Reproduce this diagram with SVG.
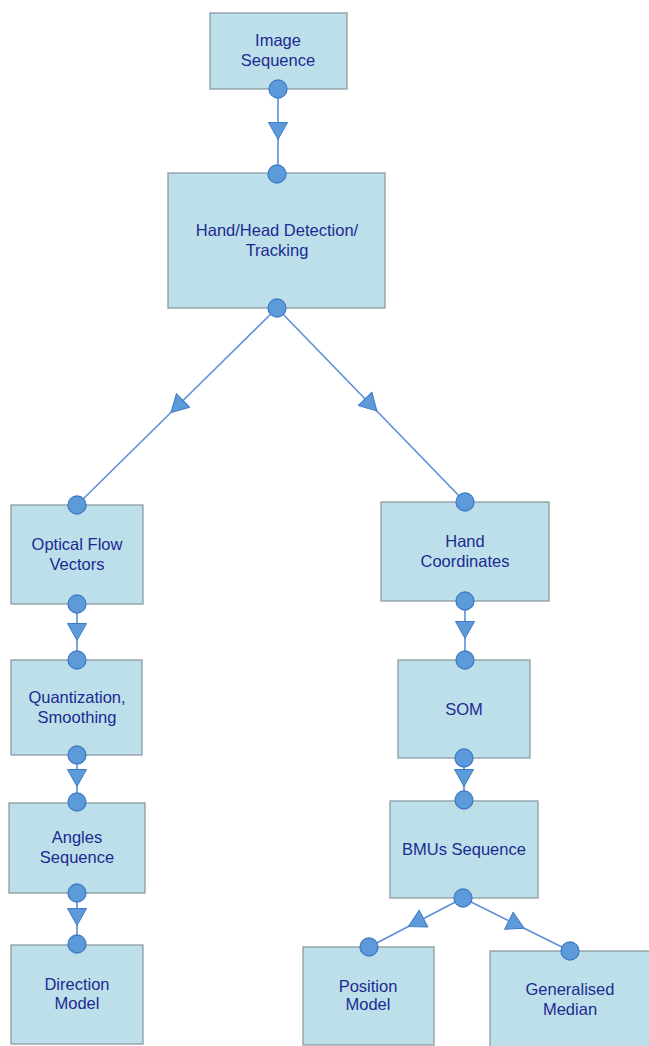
<svg xmlns="http://www.w3.org/2000/svg" width="649" height="1046" viewBox="0 0 649 1046">
<style>
.box{fill:#bddfe9;stroke:#8c9ba3;stroke-width:1.3}
.lbl{font-family:"Liberation Sans",Arial,sans-serif;font-size:16.5px;fill:#1c2a92;text-anchor:middle}
.conn{fill:none;stroke:#5b8fd8;stroke-width:1.6;marker-mid:url(#tri)}
.dot{fill:#5d9ad9;stroke:#3f7bc6;stroke-width:1.3}
</style>
<defs>
<marker id="tri" markerUnits="userSpaceOnUse" markerWidth="20" markerHeight="20" viewBox="-9 -10 19 20" refX="0" refY="0" orient="auto">
<path d="M-8.5,-9.5 L8.5,0 L-8.5,9.5 Z" fill="#5d9ad9" stroke="#3f7bc6" stroke-width="1"/>
</marker>
</defs>
<g id="connectors">
<path class="conn" d="M278,89 L278,131 L278,174"/>
<path class="conn" d="M277,308 L177,406.5 L77,505"/>
<path class="conn" d="M277,308 L371,405 L465,502"/>
<path class="conn" d="M77,604 L77,632 L77,660"/>
<path class="conn" d="M77,755 L77,778 L77,802"/>
<path class="conn" d="M77,893 L77,917 L77,944"/>
<path class="conn" d="M465,601 L465,630 L465,660"/>
<path class="conn" d="M464,758 L464,778 L464,800"/>
<path class="conn" d="M463,898 L416,922.5 L369,947"/>
<path class="conn" d="M463,898 L516.5,924.5 L570,951"/>
</g>
<g id="image-sequence">
<rect class="box" x="210" y="13" width="137" height="76"/>
<text class="lbl" x="278" y="46">Image</text>
<text class="lbl" x="278" y="66">Sequence</text>
</g>
<g id="hand-head-detection">
<rect class="box" x="168" y="173" width="217" height="135"/>
<text class="lbl" x="277" y="236">Hand/Head Detection/</text>
<text class="lbl" x="277" y="256">Tracking</text>
</g>
<g id="optical-flow">
<rect class="box" x="11" y="505" width="132" height="99"/>
<text class="lbl" x="77" y="550">Optical Flow</text>
<text class="lbl" x="77" y="570">Vectors</text>
</g>
<g id="quantization">
<rect class="box" x="11" y="660" width="131" height="95"/>
<text class="lbl" x="77" y="703">Quantization,</text>
<text class="lbl" x="77" y="723">Smoothing</text>
</g>
<g id="angles-sequence">
<rect class="box" x="9" y="803" width="136" height="90"/>
<text class="lbl" x="77" y="843">Angles</text>
<text class="lbl" x="77" y="863">Sequence</text>
</g>
<g id="direction-model">
<rect class="box" x="11" y="945" width="132" height="99"/>
<text class="lbl" x="77" y="990">Direction</text>
<text class="lbl" x="77" y="1009">Model</text>
</g>
<g id="hand-coordinates">
<rect class="box" x="381" y="502" width="168" height="99"/>
<text class="lbl" x="465" y="547">Hand</text>
<text class="lbl" x="465" y="567">Coordinates</text>
</g>
<g id="som">
<rect class="box" x="398" y="660" width="132" height="98"/>
<text class="lbl" x="464" y="715">SOM</text>
</g>
<g id="bmus-sequence">
<rect class="box" x="390" y="801" width="148" height="97"/>
<text class="lbl" x="464" y="855">BMUs Sequence</text>
</g>
<g id="position-model">
<rect class="box" x="303" y="947" width="131" height="98"/>
<text class="lbl" x="368" y="992">Position</text>
<text class="lbl" x="368" y="1010">Model</text>
</g>
<g id="generalised-median">
<rect class="box" x="490" y="951" width="164" height="100"/>
<text class="lbl" x="570" y="995">Generalised</text>
<text class="lbl" x="570" y="1015">Median</text>
</g>
<g id="ports">
<circle class="dot" cx="278" cy="89" r="9"/>
<circle class="dot" cx="277" cy="174" r="9"/>
<circle class="dot" cx="277" cy="308" r="9"/>
<circle class="dot" cx="77" cy="505" r="9"/>
<circle class="dot" cx="77" cy="604" r="9"/>
<circle class="dot" cx="77" cy="660" r="9"/>
<circle class="dot" cx="77" cy="755" r="9"/>
<circle class="dot" cx="77" cy="802" r="9"/>
<circle class="dot" cx="77" cy="893" r="9"/>
<circle class="dot" cx="77" cy="944" r="9"/>
<circle class="dot" cx="465" cy="502" r="9"/>
<circle class="dot" cx="465" cy="601" r="9"/>
<circle class="dot" cx="465" cy="660" r="9"/>
<circle class="dot" cx="464" cy="758" r="9"/>
<circle class="dot" cx="464" cy="800" r="9"/>
<circle class="dot" cx="463" cy="898" r="9"/>
<circle class="dot" cx="369" cy="947" r="9"/>
<circle class="dot" cx="570" cy="951" r="9"/>
</g>
</svg>
